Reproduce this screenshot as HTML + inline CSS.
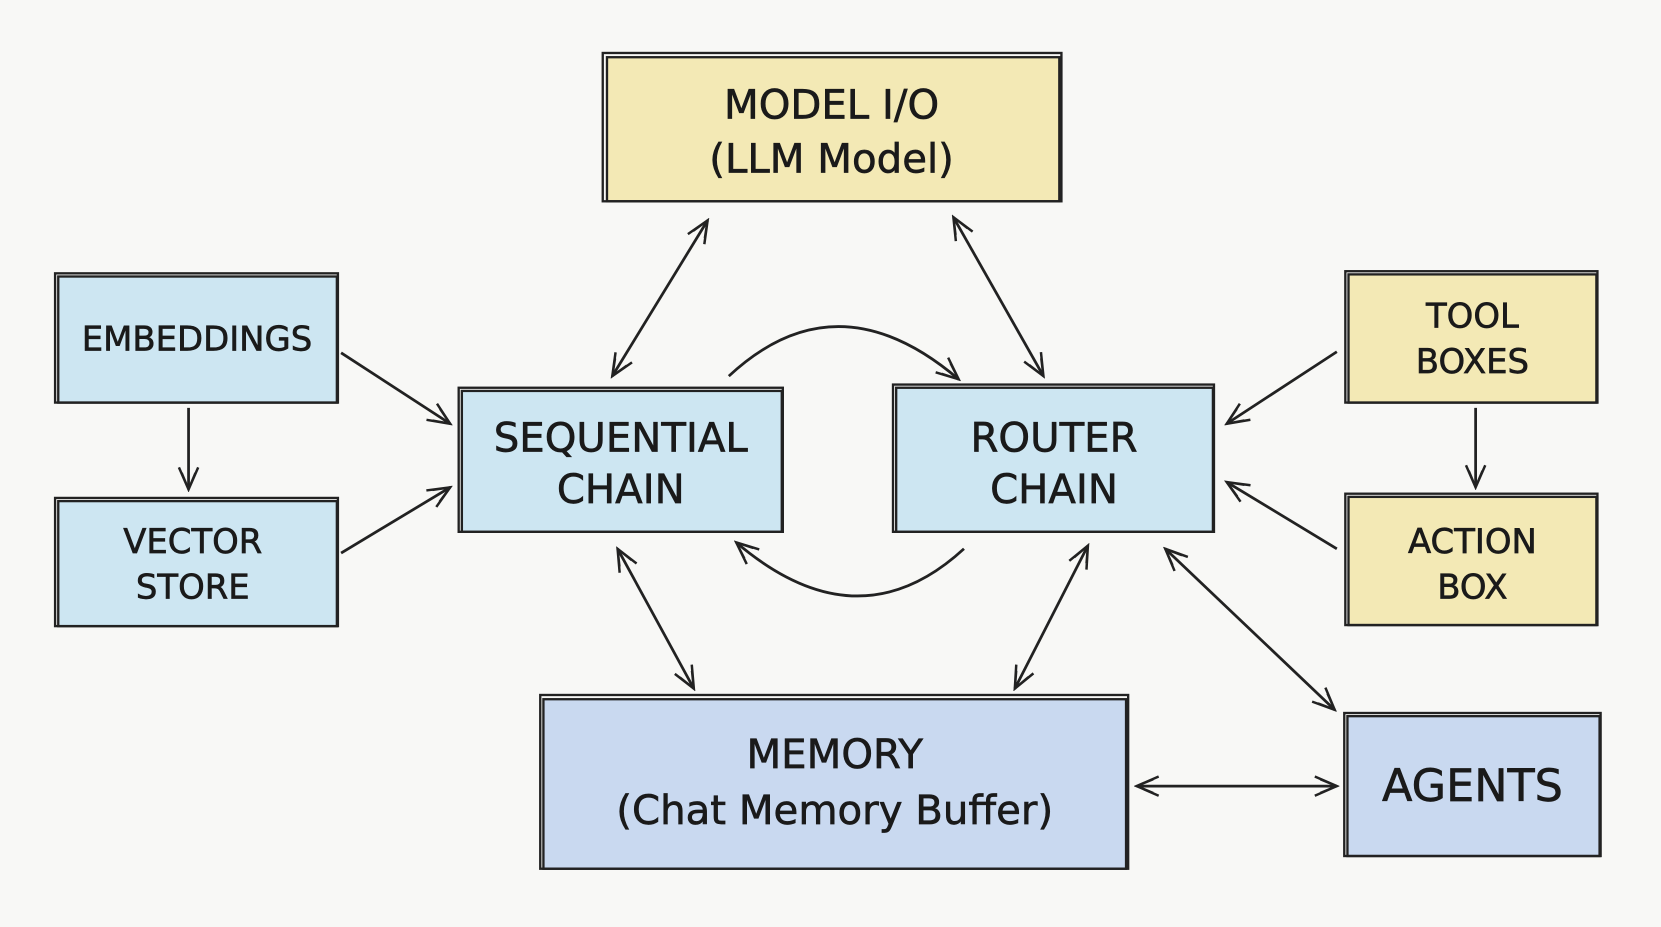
<!DOCTYPE html>
<html><head><meta charset="utf-8"><style>
html,body{margin:0;padding:0;background:#f8f8f6;}
svg{display:block}
text{font-family:"DejaVu Sans","Liberation Sans",sans-serif;fill:#1a1a1a;text-anchor:middle;stroke:#1a1a1a;stroke-width:0.6;}
</style></head><body>
<svg width="1661" height="927" viewBox="0 0 1568 875" preserveAspectRatio="none" xmlns="http://www.w3.org/2000/svg">
<defs>
<marker id="a" viewBox="0 0 20 20" refX="18" refY="10" markerWidth="26" markerHeight="26" markerUnits="userSpaceOnUse" orient="auto-start-reverse">
<path d="M2,3 L18,10 L2,17 M6,5 L18,10 L6,15" fill="none" stroke="#222" stroke-width="1.8"/>
</marker>
</defs>
<rect width="1568" height="875" fill="#f8f8f6"/>
<g stroke="#222" stroke-width="2.2" fill="none">
<rect x="573" y="54" width="427" height="136" fill="#f3e9b5"/>
<rect x="569" y="50" width="433" height="140" />
<rect x="55" y="261" width="263" height="119" fill="#cde6f2"/>
<rect x="52" y="258" width="267" height="122"/>
<rect x="55" y="473" width="263" height="118" fill="#cde6f2"/>
<rect x="52" y="470" width="267" height="121"/>
<rect x="436" y="369" width="302" height="133" fill="#cde6f2"/>
<rect x="433" y="366" width="306" height="136"/>
<rect x="846" y="366" width="299" height="136" fill="#cde6f2"/>
<rect x="843" y="363" width="303" height="139"/>
<rect x="1273" y="259" width="234" height="121" fill="#f3e9b5"/>
<rect x="1270" y="256" width="238" height="124"/>
<rect x="1273" y="469" width="234" height="121" fill="#f3e9b5"/>
<rect x="1270" y="466" width="238" height="124"/>
<rect x="513" y="660" width="550" height="160" fill="#c9d9f0"/>
<rect x="510" y="656" width="555" height="164"/>
<rect x="1272" y="676" width="238" height="132" fill="#c9d9f0"/>
<rect x="1269" y="673" width="242" height="135"/>
<g stroke-width="2.6">
<line x1="322" y1="333" x2="425" y2="400" marker-end="url(#a)"/>
<line x1="322" y1="522" x2="425" y2="460" marker-end="url(#a)"/>
<line x1="178" y1="385" x2="178" y2="462" marker-end="url(#a)"/>
<line x1="668" y1="208" x2="578" y2="355" marker-start="url(#a)" marker-end="url(#a)"/>
<line x1="900" y1="205" x2="985" y2="355" marker-start="url(#a)" marker-end="url(#a)"/>
<path d="M688,355 Q790,260 905,358" marker-end="url(#a)"/>
<path d="M910,518 Q810,610 695,512" marker-end="url(#a)"/>
<line x1="1262" y1="332" x2="1158" y2="400" marker-end="url(#a)"/>
<line x1="1393" y1="385" x2="1393" y2="460" marker-end="url(#a)"/>
<line x1="1262" y1="518" x2="1158" y2="455" marker-end="url(#a)"/>
<line x1="583" y1="518" x2="655" y2="650" marker-start="url(#a)" marker-end="url(#a)"/>
<line x1="1027" y1="515" x2="958" y2="650" marker-start="url(#a)" marker-end="url(#a)"/>
<line x1="1100" y1="518" x2="1260" y2="670" marker-start="url(#a)" marker-end="url(#a)"/>
<line x1="1073" y1="742" x2="1262" y2="742" marker-start="url(#a)" marker-end="url(#a)"/>
</g>
</g>
<g font-size="38">
<text x="785" y="112">MODEL I/O</text>
<text x="785" y="163">(LLM Model)</text>
<text x="586" y="426">SEQUENTIAL</text>
<text x="586" y="475">CHAIN</text>
<text x="995" y="426">ROUTER</text>
<text x="995" y="475">CHAIN</text>
<text x="788" y="725">MEMORY</text>
<text x="788" y="778">(Chat Memory Buffer)</text>
<text x="1390" y="756" font-size="42">AGENTS</text>
</g>
<g font-size="32">
<text x="186" y="331">EMBEDDINGS</text>
<text x="182" y="522">VECTOR</text>
<text x="182" y="565">STORE</text>
<text x="1390" y="309">TOOL</text>
<text x="1390" y="352">BOXES</text>
<text x="1390" y="522">ACTION</text>
<text x="1390" y="565">BOX</text>
</g>
</svg>
</body></html>
